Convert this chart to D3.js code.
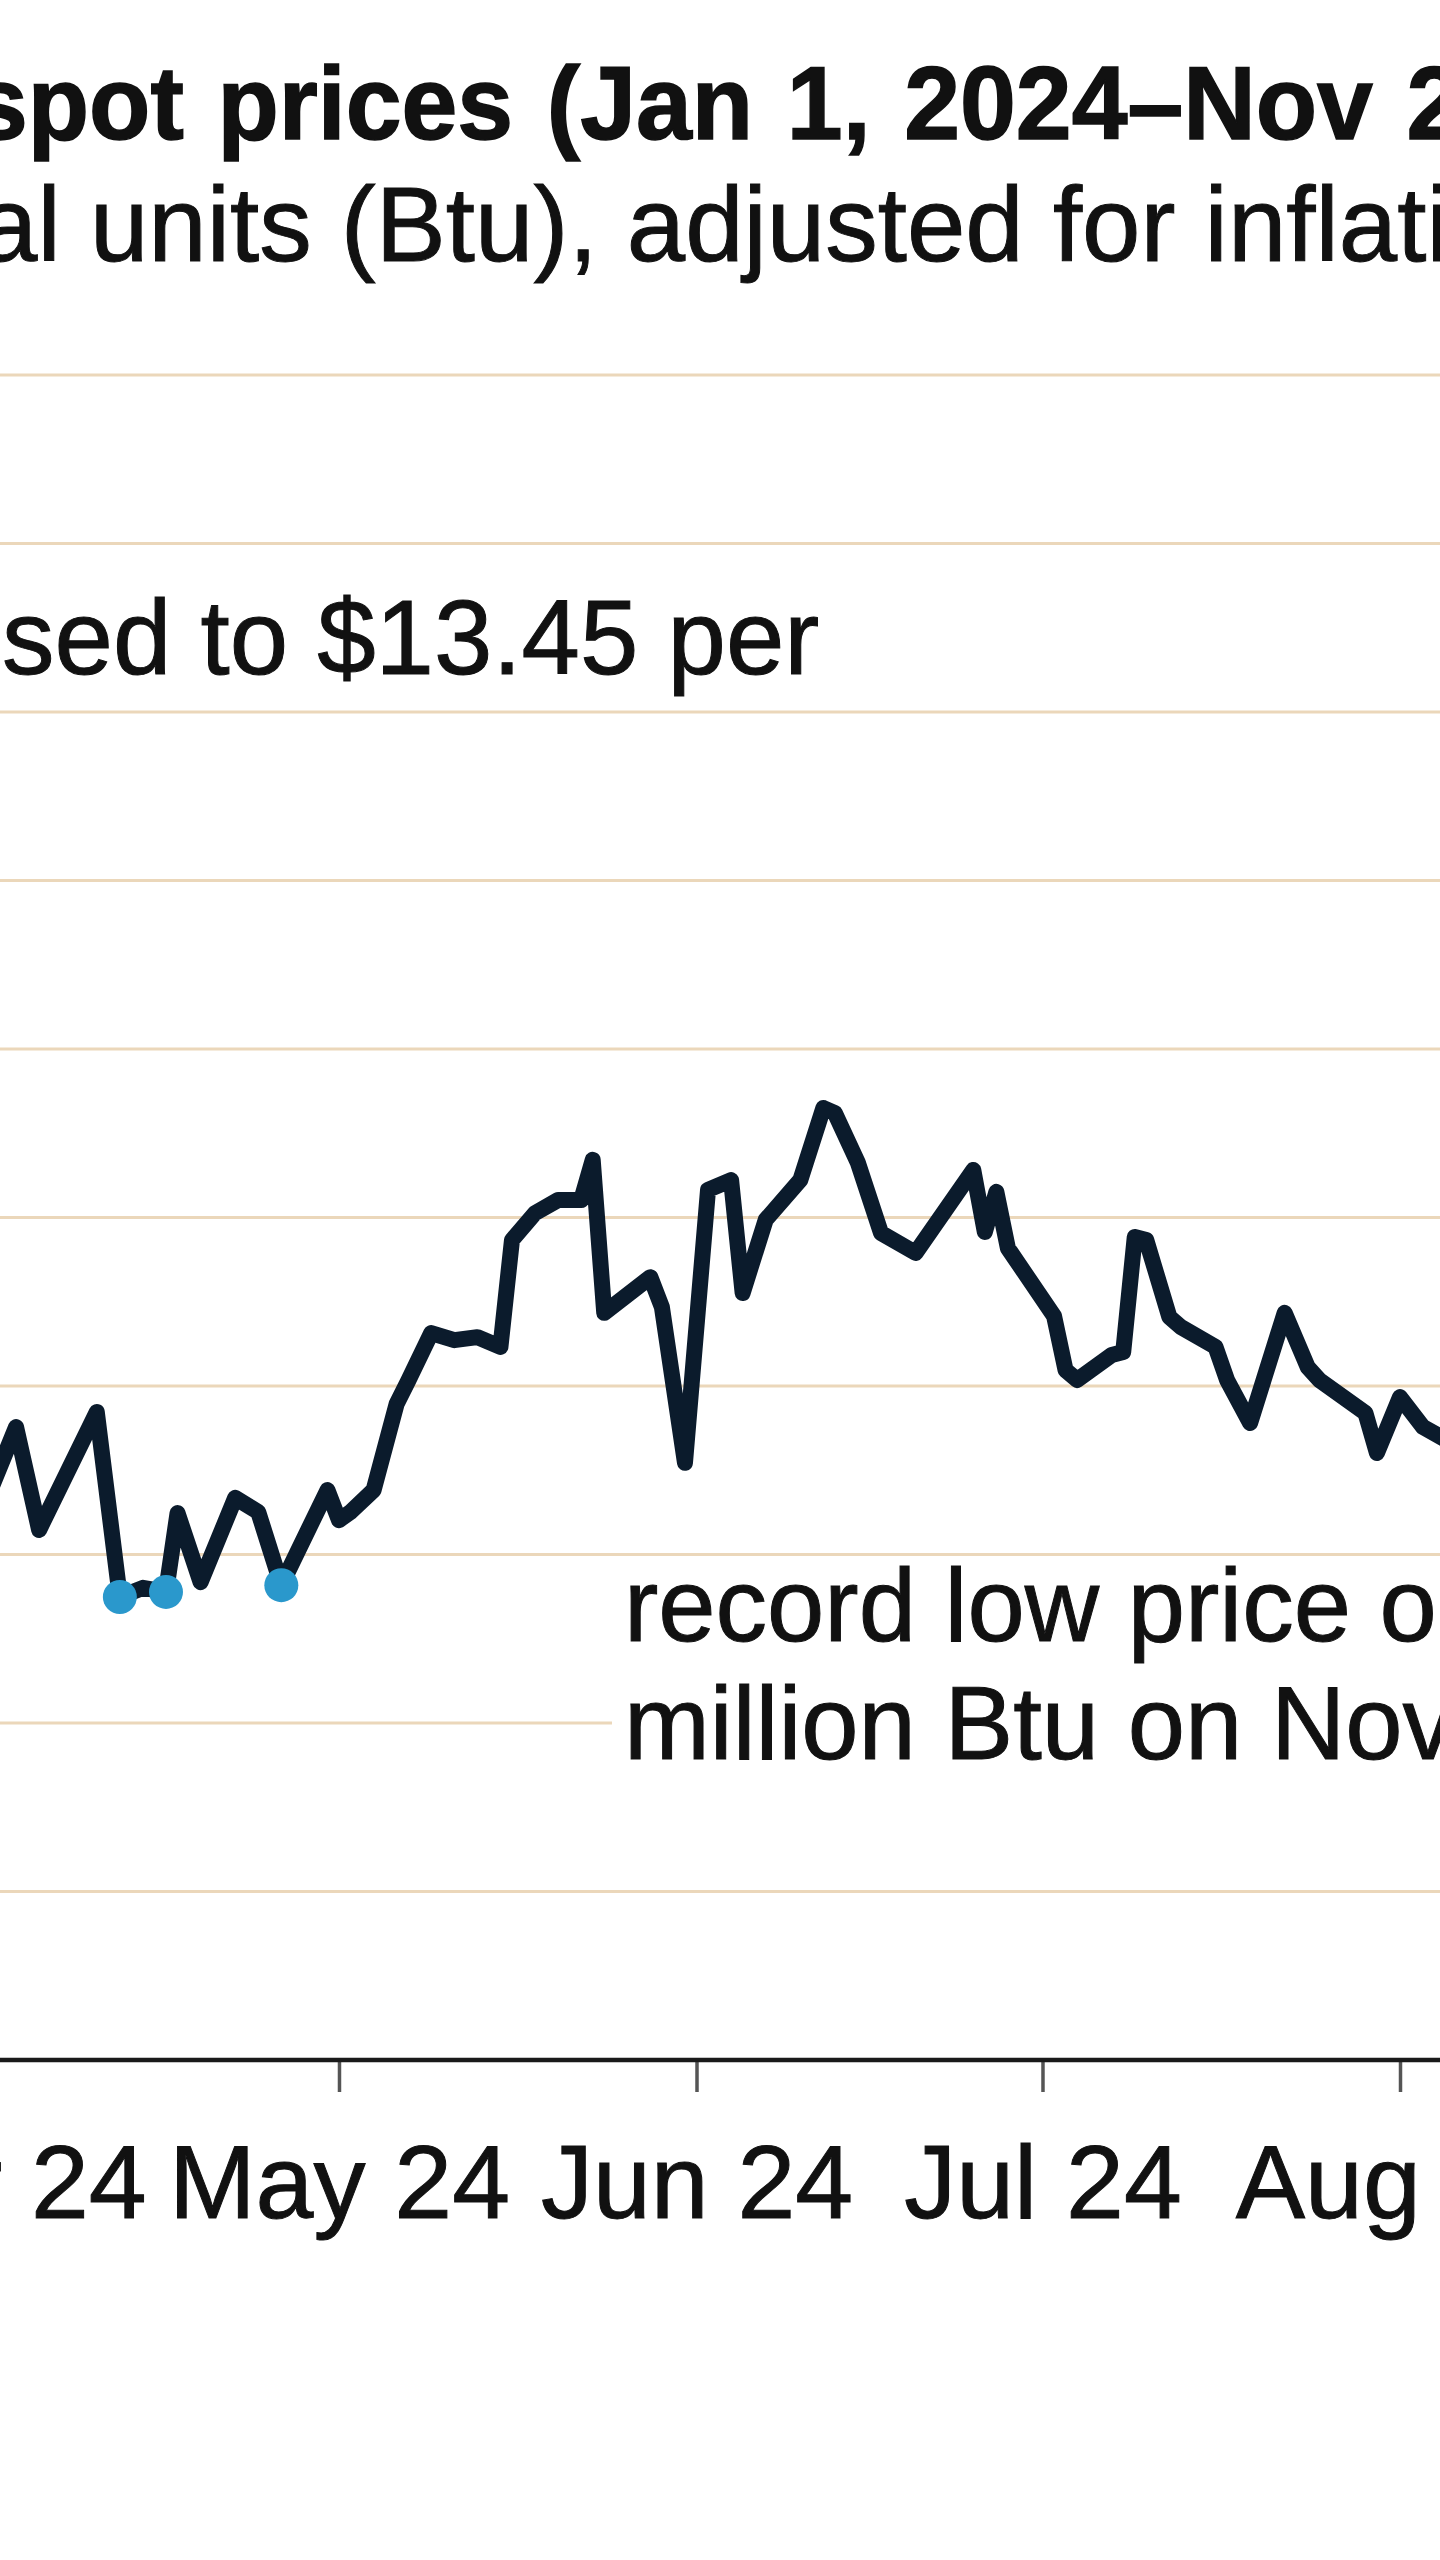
<!DOCTYPE html>
<html><head><meta charset="utf-8">
<script src="https://cdn.jsdelivr.net/npm/d3@7"></script>
<style>html,body{margin:0;padding:0;background:#fff;} svg{display:block;}</style>
</head><body><svg id="chart" width="1440" height="2560"></svg>
<script>
// ---- data ----
const dates = ["2024-03-31","2024-04-03","2024-04-05","2024-04-10","2024-04-12","2024-04-14","2024-04-16","2024-04-17","2024-04-19","2024-04-22","2024-04-24","2024-04-26","2024-04-30","2024-05-01","2024-05-02","2024-05-04","2024-05-06","2024-05-07","2024-05-09","2024-05-11","2024-05-13","2024-05-15","2024-05-16","2024-05-18","2024-05-20","2024-05-22","2024-05-23","2024-05-24","2024-05-28","2024-05-29","2024-05-31","2024-06-02","2024-06-04","2024-06-05","2024-06-07","2024-06-10","2024-06-12","2024-06-13","2024-06-15","2024-06-17","2024-06-20","2024-06-25","2024-06-26","2024-06-27","2024-06-28","2024-07-02","2024-07-03","2024-07-04","2024-07-07","2024-07-08","2024-07-09","2024-07-10","2024-07-12","2024-07-13","2024-07-16","2024-07-17","2024-07-19","2024-07-22","2024-07-24","2024-07-25","2024-07-29","2024-07-30","2024-08-01","2024-08-03","2024-08-05","2024-08-07"];
const prices = [1.626,1.878,1.573,1.923,1.374,1.401,1.389,1.623,1.418,1.668,1.626,1.409,1.691,1.602,1.626,1.691,1.947,2.015,2.157,2.136,2.145,2.116,2.433,2.513,2.552,2.552,2.671,2.217,2.323,2.234,1.772,2.582,2.611,2.276,2.493,2.611,2.825,2.810,2.662,2.454,2.395,2.641,2.457,2.576,2.409,2.208,2.047,2.018,2.092,2.101,2.442,2.433,2.205,2.175,2.116,2.018,1.890,2.217,2.056,2.018,1.920,1.801,1.967,1.878,1.840,1.820];
const lowDates = ["2024-04-12","2024-04-16","2024-04-26"];
const gridValues = [0.5,1,1.5,2,2.5,3,3.5,4,4.5,5];
const tickDates = ["2024-03-01","2024-04-01","2024-05-01","2024-06-01","2024-07-01","2024-08-01","2024-09-01"];
const tickLabels = ["Mar 24","Apr 24","May 24","Jun 24","Jul 24","Aug 24","Sep 24"];
const titleText = "spot prices (Jan 1, 2024\u2013Nov 2";
const subtitleText = "al units (Btu), adjusted for inflati";
const highNote = "sed to $13.45 per";
const lowNote = ["record low price o", "million Btu on Nov"];

// ---- chart ----
const svg = d3.select("#chart");
const W = 1440, H = 2560;
const FONT = "Liberation Sans, Arial, Helvetica, sans-serif";
svg.append("rect").attr("width", W).attr("height", H).attr("fill", "#fff");

const parse = d3.utcParse("%Y-%m-%d");
const series = dates.map((d, i) => ({date: parse(d), value: prices[i]}));

const x = d3.scaleUtc().domain([parse("2024-04-01"), parse("2024-08-01")]).range([-7, 1400]);
const y = d3.scaleLinear().domain([0, 5]).range([2060, 375]);

// gridlines
svg.append("g").selectAll("line").data(gridValues).join("line")
  .attr("x1", 0).attr("x2", W)
  .attr("y1", d => y(d)).attr("y2", d => y(d))
  .attr("stroke", "#ebd7ba").attr("stroke-width", 3);

// titles
svg.append("text").attr("transform", "translate(-28,139) scale(0.965,1)")
  .attr("font-family", FONT).attr("font-weight", "bold").attr("font-size", 104)
  .attr("fill", "#111").attr("stroke", "#111").attr("stroke-width", 1.5)
  .attr("word-spacing", 6)
  .text(titleText);
svg.append("text").attr("x", -21).attr("y", 261)
  .attr("font-family", FONT).attr("font-size", 105)
  .attr("fill", "#111").attr("stroke", "#111").attr("stroke-width", 1)
  .text(subtitleText);

// high annotation
svg.append("text").attr("x", 2).attr("y", 674)
  .attr("font-family", FONT).attr("font-size", 105)
  .attr("fill", "#111").attr("stroke", "#111").attr("stroke-width", 1)
  .text(highNote);

// low annotation box
svg.append("rect").attr("x", 612).attr("y", 1566).attr("width", W - 612).attr("height", 215).attr("fill", "#fff");
svg.append("g").selectAll("text").data(lowNote).join("text")
  .attr("x", 624).attr("y", (d, i) => 1641 + i * 118)
  .attr("font-family", FONT).attr("font-size", 103)
  .attr("fill", "#111").attr("stroke", "#111").attr("stroke-width", 1)
  .text(d => d);

// x axis
const xAxis = d3.axisBottom(x)
  .tickValues(tickDates.map(parse))
  .tickFormat((d, i) => tickLabels[i])
  .tickSize(32).tickPadding(52);
const gx = svg.append("g").attr("transform", `translate(0,${y(0)})`).call(xAxis);
gx.select(".domain").remove();
gx.selectAll(".tick line").attr("stroke", "#555").attr("stroke-width", 3.5);
gx.selectAll(".tick text").attr("font-family", FONT).attr("font-size", 104)
  .attr("fill", "#111").attr("stroke", "#111").attr("stroke-width", 1);
svg.append("line").attr("x1", 0).attr("x2", W).attr("y1", y(0)).attr("y2", y(0))
  .attr("stroke", "#1a1a1a").attr("stroke-width", 4.5);

// price line
const line = d3.line().x(d => x(d.date)).y(d => y(d.value));
svg.append("path").datum(series).attr("d", line)
  .attr("fill", "none").attr("stroke", "#0b1b2c").attr("stroke-width", 16)
  .attr("stroke-linejoin", "round").attr("stroke-linecap", "round");

// record-low points
const lows = series.filter(d => lowDates.includes(d3.utcFormat("%Y-%m-%d")(d.date)));
svg.append("g").selectAll("circle").data(lows).join("circle")
  .attr("cx", d => x(d.date)).attr("cy", d => y(d.value)).attr("r", 17)
  .attr("fill", "#2a98cc");
</script></body></html>
